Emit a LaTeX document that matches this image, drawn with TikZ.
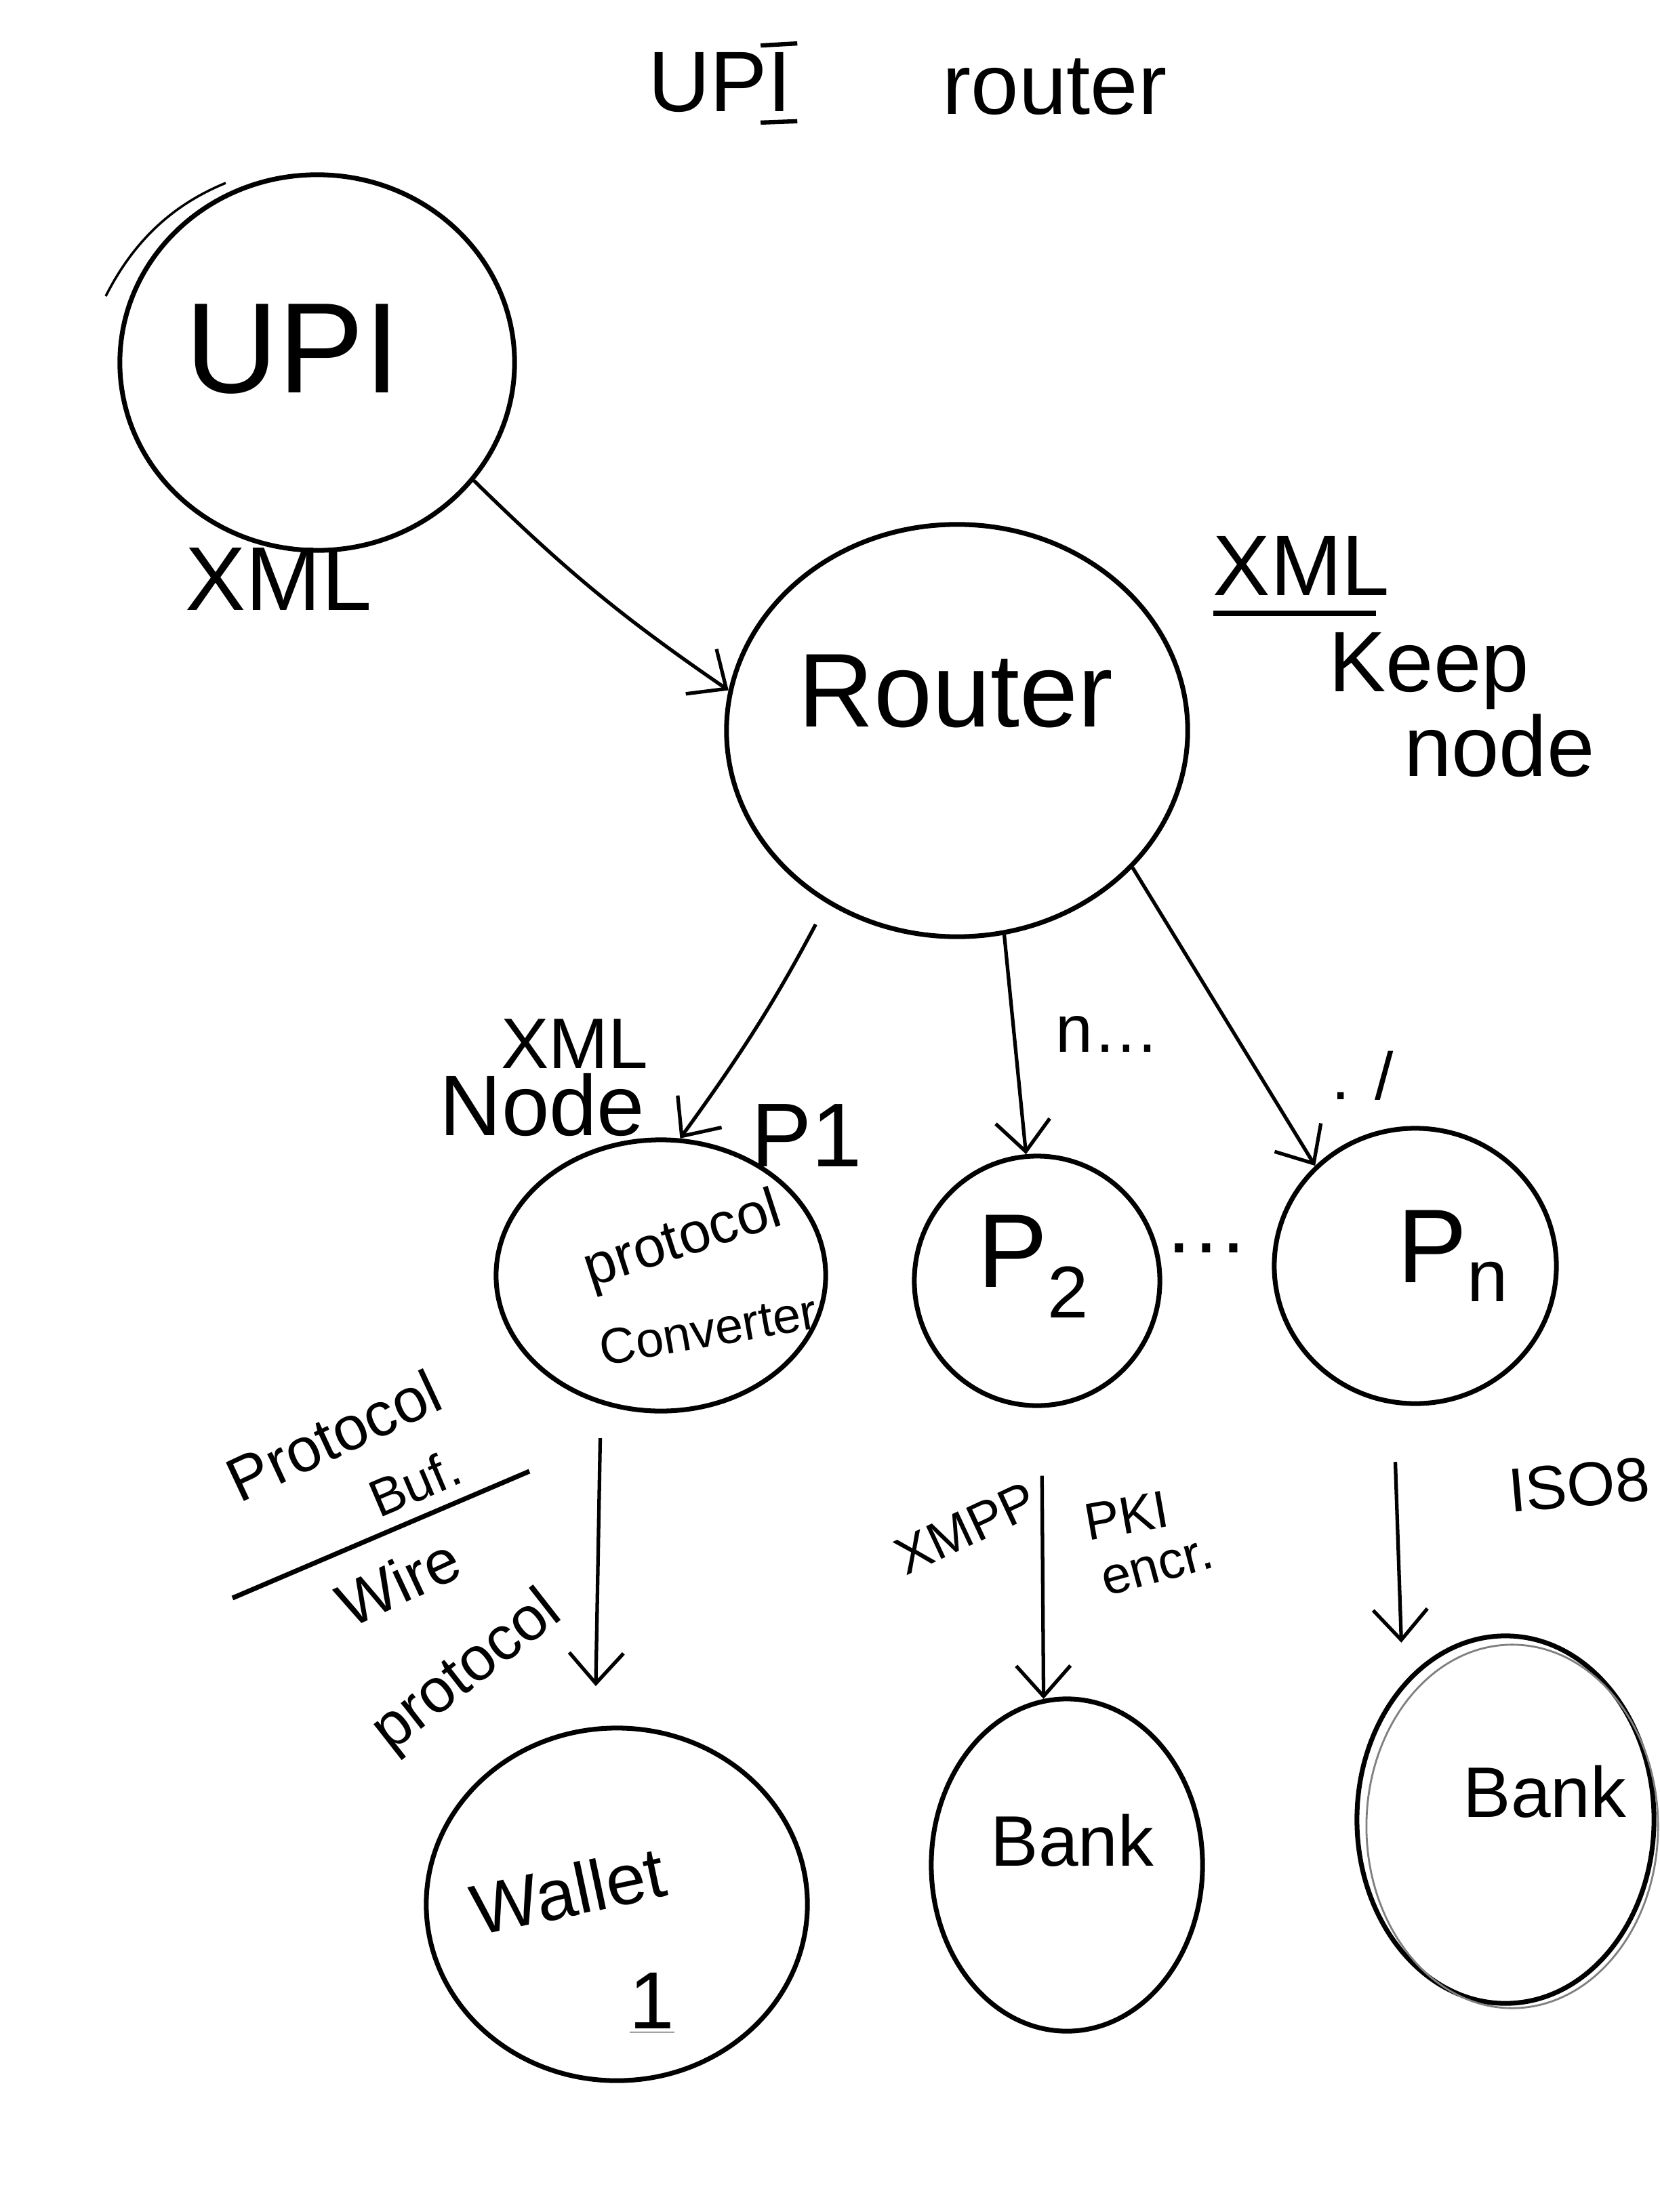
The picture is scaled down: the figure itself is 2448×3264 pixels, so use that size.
\documentclass[tikz,border=0pt]{standalone}
\usepackage{fontspec}
\setmainfont{Liberation Sans}
\usetikzlibrary{arrows.meta,shapes.geometric}
\begin{document}
\begin{tikzpicture}[x=0.01cm,y=-0.01cm,
  bub/.style={draw, ellipse, line width=2pt, inner sep=0pt},
  arr/.style={-{Straight Barb[length=4.5mm,width=8mm]}, line width=1.5pt},
  hw/.style={inner sep=0pt},
  fs/.style={font=\fontsize{#1}{#1}\selectfont}]
\useasboundingbox (0,0) rectangle (2448,3264);
\fill[white] (0,0) rectangle (2448,3264);

% title
\node[hw, fs=36] (tupi) at (1062,122) {UPI};
\node[hw, fs=36] (trouter) at (1556,128) {router};
\draw[line width=1.8pt] ([xshift=-0.46cm,yshift=0.1cm]tupi.north east) -- ([xshift=0.08cm,yshift=0.13cm]tupi.north east);
\draw[line width=1.8pt] ([xshift=-0.46cm,yshift=-0.14cm]tupi.south east) -- ([xshift=0.08cm,yshift=-0.12cm]tupi.south east);

% circles
\node[bub, minimum width=5.82cm, minimum height=5.54cm] (upi) at (468,535) {};
\node[bub, minimum width=6.80cm, minimum height=6.08cm] (router) at (1412,1078) {};
\node[bub, minimum width=4.86cm, minimum height=4.00cm] (p1) at (975,1882) {};
\node[bub, minimum width=3.62cm, minimum height=3.68cm] (p2) at (1530,1890) {};
\node[bub, minimum width=4.16cm, minimum height=4.06cm] (pn) at (2088,1868) {};
\node[bub, minimum width=5.62cm, minimum height=5.20cm] (wallet) at (910,2810) {};
\node[bub, minimum width=4.00cm, minimum height=4.90cm] (bank) at (1574,2752) {};
\node[bub, minimum width=4.38cm, minimum height=5.42cm] (bank2) at (2221,2685) {};
\draw[line width=0.8pt, gray] (2231,2695) ellipse (2.15cm and 2.68cm);
\draw[line width=1pt] (156,437) .. controls (200,350) and (260,300) .. (333,270);

% texts in circles
\node[hw, fs=54] (upit) at (432,515) {UPI};
\node[hw, fs=44] (routert) at (1410,1020) {Router};
\node[hw, fs=24, rotate=18] (protot) at (1008,1832) {protocol};
\node[hw, fs=21, rotate=10] (convt) at (1045,1962) {Converter};
\node[hw, fs=44] (p2t) at (1525,1869) {P\textsubscript{2}};
\node[hw, fs=44] (pnt) at (2144,1853) {P\textsubscript{n}};
\node[hw, fs=30, rotate=12] (wallett) at (838,2790) {Wallet};
\node[hw, fs=34] (onet) at (962,2956) {\underline{1}};
\node[hw, fs=30] (bankt) at (1582,2716) {Bank};
\node[hw, fs=30] (bank2t) at (2279,2644) {Bank};

% labels
\node[hw, fs=38] (xml1) at (411,855) {XML};
\node[hw, fs=36] (xml2) at (1920,835) {XML};
\draw[line width=2pt] (1790,905) -- (2030,905);
\node[hw, fs=36] (keep) at (2108,990) {Keep};
\node[hw, fs=36] (nodet) at (2212,1100) {node};
\node[hw, fs=30] (xml3) at (848,1540) {XML};
\node[hw, fs=36] (node3) at (800,1630) {Node};
\node[hw, fs=38] (p1t) at (1190,1676) {P1};
\node[hw, fs=28] (ndots) at (1634,1526) {n\dots};
\node[hw, fs=28] (sl) at (2010,1587) {. /};
\node[hw, fs=36] (dots) at (1780,1842) {\dots};
\node[hw, fs=26, rotate=25] (pbuf) at (492,2118) {Protocol};
\node[hw, fs=22, rotate=23] (buf) at (612,2188) {Buf.};
\draw[line width=2pt] (343,2358) -- (781,2171);
\node[hw, fs=26, rotate=25] (wire) at (588,2334) {Wire};
\node[hw, fs=26, rotate=38] (wproto) at (690,2468) {protocol};
\node[hw, fs=22, rotate=25] (xmpp) at (1425,2255) {XMPP};
\node[hw, fs=22, rotate=10] (pki) at (1662,2236) {PKI};
\node[hw, fs=22, rotate=15] (encr) at (1708,2314) {encr.};
\node[hw, fs=26, rotate=5, anchor=east] (iso) at (2434,2182) {ISO8};

% connectors
\draw[arr] (upi.-37) to[bend right=5] (router.170);
\draw[arr, shorten <=0.35cm] (router.233) to[bend left=4] (p1.82);
\draw[arr] (router.283) -- (p2.95);
\draw[arr] (router.322) -- (pn.135);
\draw[arr, shorten <=0.5cm, shorten >=0.6cm] (p1.245) -- (wallet.97);
\draw[arr, shorten <=1cm] (p2.272) -- (bank.98);
\draw[arr, shorten <=0.85cm, shorten >=0.6cm] (pn.261) -- (bank2.127);
\end{tikzpicture}
\end{document}
